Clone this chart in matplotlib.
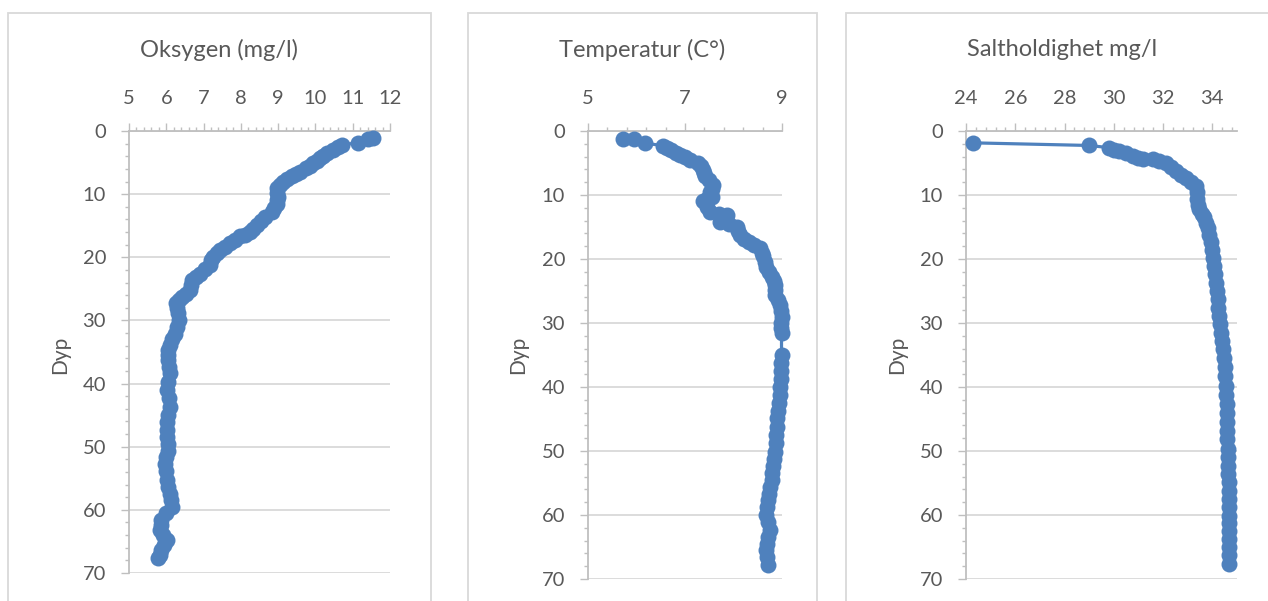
import numpy as np
import matplotlib
matplotlib.use("Agg")
import matplotlib.pyplot as plt
from matplotlib.ticker import MultipleLocator
from matplotlib.patches import Rectangle

plt.rcParams['font.family'] = ['Lato', 'DejaVu Sans']

# ── Data (depth in m, value) ──────────────────────────────────────
oks_dyp = [1.1, 1.2, 1.85, 2.2, 2.6, 3.0, 3.5, 3.9, 4.3, 4.7, 5.1, 5.5, 5.9, 6.45,
           6.8, 7.2, 7.6, 8.0, 8.5, 9.1, 9.8, 10.4, 11.0, 11.5, 12.2, 12.8, 13.6,
           14.2, 14.9, 15.5, 16.0, 16.4, 16.7, 17.2, 17.8, 18.4, 18.9, 19.4, 19.9,
           20.5, 21.2, 21.9, 22.6, 23.1, 23.6, 24.4, 25.2, 25.8, 26.3, 26.8, 27.3,
           28.1, 28.9, 30.0, 31.0, 32.1, 33.0, 33.9, 34.7, 35.5, 36.3, 37.3, 38.4,
           39.7, 41.0, 42.3, 43.7, 44.9, 46.1, 47.4, 48.5, 49.6, 50.6, 51.6, 52.7,
           53.9, 55.2, 56.4, 57.5, 58.5, 59.5, 60.5, 61.6, 62.4, 63.2, 64.0, 64.8,
           65.6, 66.4, 67.1, 67.7]
oks_val = [11.55, 11.40, 11.15, 10.70, 10.60, 10.48, 10.30, 10.20, 10.12, 10.03, 9.94,
           9.85, 9.76, 9.58, 9.47, 9.36, 9.25, 9.14, 9.05, 8.96, 8.98, 9.00, 8.98, 8.96,
           8.90, 8.83, 8.65, 8.55, 8.42, 8.33, 8.24, 8.10, 7.98, 7.85, 7.71, 7.57, 7.44,
           7.35, 7.26, 7.20, 7.17, 7.03, 6.90, 6.79, 6.68, 6.66, 6.64, 6.52, 6.41, 6.33,
           6.26, 6.30, 6.32, 6.34, 6.28, 6.23, 6.16, 6.10, 6.05, 6.05, 6.05, 6.08, 6.10,
           6.05, 6.01, 6.06, 6.10, 6.05, 6.02, 6.01, 6.03, 6.05, 6.05, 6.00, 5.97, 6.00,
           6.03, 6.05, 6.09, 6.12, 6.14, 6.00, 5.87, 5.85, 5.83, 5.92, 6.01, 5.94, 5.87,
           5.82, 5.79]

temp_dyp = [1.3, 1.3, 1.9, 2.3, 2.6, 3.0, 3.4, 3.75, 4.1, 4.5, 5.05, 5.5, 6.1, 6.6,
            7.1, 7.7, 8.4, 9.0, 9.5, 10.3, 10.6, 11.0, 11.8, 12.6, 13.0, 13.1, 13.8,
            14.2, 14.6, 15.0, 15.6, 16.3, 16.8, 17.3, 17.8, 18.3, 19.0, 19.6, 20.4,
            21.2, 22.0, 22.8, 23.5, 24.1, 24.9, 25.6, 26.4, 27.2, 28.1, 29.0, 30.0,
            30.8, 31.6, 35.0, 36.2, 37.5, 38.7, 40.0, 41.2, 42.5, 43.7, 44.9, 46.2,
            47.5, 48.8, 50.1, 51.2, 52.3, 53.4, 54.5, 55.6, 56.7, 57.7, 58.8, 60.0,
            61.1, 62.3, 63.4, 64.5, 65.5, 66.6, 67.8]
temp_val = [5.73, 5.95, 6.18, 6.55, 6.62, 6.72, 6.81, 6.90, 7.00, 7.10, 7.27, 7.33,
            7.38, 7.40, 7.41, 7.50, 7.58, 7.55, 7.52, 7.55, 7.46, 7.38, 7.45, 7.52,
            7.70, 7.86, 7.80, 7.72, 7.90, 8.07, 8.10, 8.13, 8.22, 8.31, 8.43, 8.55,
            8.58, 8.61, 8.65, 8.68, 8.74, 8.79, 8.83, 8.86, 8.86, 8.86, 8.91, 8.96,
            8.98, 8.99, 8.97, 8.98, 8.99, 8.99, 8.98, 8.98, 8.97, 8.96, 8.95, 8.93,
            8.92, 8.90, 8.89, 8.88, 8.87, 8.86, 8.84, 8.82, 8.80, 8.79, 8.76, 8.74,
            8.72, 8.70, 8.68, 8.71, 8.75, 8.72, 8.69, 8.68, 8.70, 8.72]

salt_dyp = [1.85, 2.26, 2.6, 2.9, 3.15, 3.5, 3.9, 4.2, 4.45, 4.45, 4.7, 4.96, 5.6,
            6.27, 6.8, 7.3, 7.9, 8.6, 9.6, 10.7, 11.5, 12.2, 12.9, 13.5, 14.3, 15.1,
            16.2, 17.4, 18.6, 19.9, 21.1, 22.4, 23.7, 25.0, 26.3, 27.6, 28.9, 30.2,
            31.5, 32.8, 34.1, 35.5, 36.9, 38.3, 39.8, 41.2, 42.6, 44.0, 45.4, 46.8,
            48.2, 49.7, 51.0, 52.3, 53.6, 54.9, 56.2, 57.5, 58.8, 60.1, 61.3, 62.5,
            63.7, 65.0, 66.3, 67.6]
salt_val = [24.27, 28.99, 29.80, 30.00, 30.23, 30.50, 30.77, 30.98, 31.18, 31.58,
            31.85, 32.13, 32.33, 32.53, 32.73, 32.94, 33.14, 33.34, 33.36, 33.38,
            33.42, 33.47, 33.58, 33.68, 33.75, 33.81, 33.88, 33.95, 34.00, 34.04,
            34.08, 34.11, 34.14, 34.18, 34.21, 34.24, 34.28, 34.31, 34.35, 34.38,
            34.42, 34.46, 34.50, 34.53, 34.56, 34.57, 34.58, 34.59, 34.60, 34.61,
            34.61, 34.62, 34.63, 34.64, 34.65, 34.66, 34.67, 34.68, 34.68, 34.69,
            34.68, 34.68, 34.67, 34.67, 34.66, 34.66]

titler = ["Oksygen (mg/l)", "Temperatur (C°)", "Saltholdighet mg/l"]

W, H = 1268, 601
BLA = "#4f81bd"
TXT = "#595959"
GRID = "#d9d9d9"
AKSE = "#bfbfbf"

fig = plt.figure(figsize=(W / 100, H / 100), dpi=100)


def px_axes(l, r, t, b):
    return fig.add_axes([l / W, 1 - b / H, (r - l) / W, (b - t) / H])


# (plot-area pixels, chart box pixels, xlim, major, minor, ylabel x)
paneler = [
    ((129, 390, 131, 573), (8, 431), (5, 12), 1, 0.2, 60),
    ((588, 782, 131, 579), (468, 817), (5, 9), 2, 0.4, 518),
    ((966, 1237, 131, 579), (846, 1279), (24, 35), 2, 0.4, 897),
]
serier = [(oks_val, oks_dyp), (temp_val, temp_dyp), (salt_val, salt_dyp)]

for (omr, boks, xlim, maj, mnr, ylx), (xv, yv), tittel in zip(paneler, serier, titler):
    # light chart border
    fig.patches.append(Rectangle((boks[0] / W, -0.1), (boks[1] - boks[0]) / W,
                                 1.1 - 13 / H, transform=fig.transFigure,
                                 fill=False, edgecolor=GRID, linewidth=1.3))
    ax = px_axes(*omr)
    ax.plot(xv, yv, color=BLA, linewidth=2.3, marker="o", markersize=11.5,
            markeredgewidth=0, clip_on=False, zorder=3)
    ax.set_xlim(*xlim)
    ax.set_ylim(70, 0)
    ax.xaxis.tick_top()
    ax.set_xticks(np.arange(xlim[0], xlim[1] + 1e-6, maj))
    ax.set_xticks(np.arange(xlim[0], xlim[1] + 1e-6, mnr), minor=True)
    ax.yaxis.set_major_locator(MultipleLocator(10))
    ax.yaxis.set_minor_locator(MultipleLocator(2))
    for s in ("bottom", "right"):
        ax.spines[s].set_visible(False)
    for s in ("top", "left"):
        ax.spines[s].set_color(AKSE)
        ax.spines[s].set_linewidth(1.3)
    ax.tick_params(which="both", color=AKSE, width=1.0, direction="out")
    ax.tick_params(which="major", length=5.5, labelsize=14.5, labelcolor=TXT)
    ax.tick_params(which="minor", length=3)
    ax.tick_params(axis="y", which="major", pad=11)
    ax.tick_params(axis="x", which="major", pad=12)
    ax.grid(axis="y", which="major", color=GRID, linewidth=1.3)
    ax.set_axisbelow(True)
    ax.set_facecolor("none")
    fig.text((boks[0] + boks[1]) / 2 / W, 1 - 50 / H, tittel, ha="center",
             va="center", fontsize=17, color=TXT)
    fig.text(ylx / W, 1 - 355 / H, "Dyp", rotation=90, ha="center", va="center",
             fontsize=15, color=TXT)

fig.savefig("out.png", dpi=100)
